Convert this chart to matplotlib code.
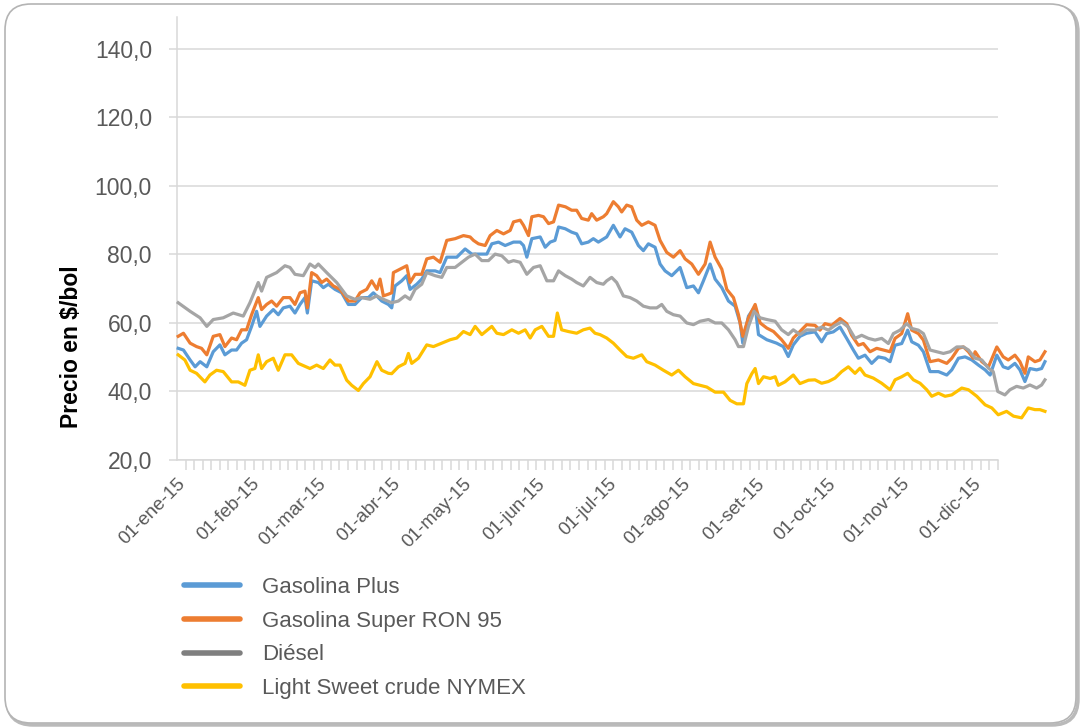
import numpy as np
import pandas as pd
import matplotlib
matplotlib.use("Agg")
import matplotlib.pyplot as plt
import matplotlib.dates as mdates
from matplotlib.lines import Line2D
from matplotlib.patches import FancyBboxPatch

plt.rcParams['font.family'] = ['Liberation Sans', 'DejaVu Sans']

# ================================
# Datos (dias desde 01-ene-15, precio $/bol)
# ================================
base = pd.Timestamp("2015-01-01")

plus_dias = [0.5, 2.7, 5.5, 7.6, 9.7, 12.5, 15.2, 18, 20.1, 22.9, 25, 27.1, 29.2, 31.3, 33.4, 34.8, 37.6, 40.4,
             42.5, 44.6, 47.4, 49.5, 51.6, 53.7, 54.7, 56.5, 59.3, 61.4, 63.5, 66.3, 69.1, 71.9, 74.7, 77.5,
             80.3, 82.4, 84.5, 85.9, 88.7,
             90.1, 91.5, 94.3, 96.4, 97.8, 100.6, 102.7, 104.8, 108.3, 110.4, 113.2, 117.4, 120.9, 123.7,
             127.2, 130, 132.1, 134.9, 137.7, 141.2, 144, 145.4, 146.8, 148.9, 152.4, 154.5, 156.6, 158.6,
             160.1, 162.9, 165.6, 167.7, 169.8, 172.6, 174.7, 176.8,
             180.3, 183.1, 185.9, 188, 190.8, 193.6, 195.7, 197.8, 200.6, 202.7, 204.8, 207.6, 211.1, 213.9,
             216.7, 218.8, 220.9, 223.7, 225.8, 228.6, 231.4, 234.2, 236.3, 237.4, 239.8, 242.6, 244, 247.5,
             251.6, 254.4, 256.5, 258.6, 261.4, 264.2,
             267.7, 270.5, 272.6, 275.4, 278.2, 281, 283.8, 285.9, 288.7, 291.5, 294.3, 297.1, 299.2, 301.3,
             304.1, 306.6, 308.3, 311.1, 313.2, 316, 319.5, 323, 325.1, 327.9, 330.7, 333.5, 336.3, 339.1,
             341.2, 344, 346.7, 348.8, 351.6, 353.7, 355.8, 357.9, 360.7, 362.8, 364.2]
plus_val = [52.6, 52.1, 49.2, 47.2, 48.7, 47.2, 51.6, 53.6, 50.7, 52.1, 52.1, 54.1, 55.1, 59.0, 63.4, 59.0, 62.0, 63.9,
            62.4, 64.4, 64.9, 62.9, 65.4, 67.4, 62.9, 72.3, 71.8, 70.3, 71.3, 69.8, 68.8, 65.4, 65.4, 67.4,
            67.4, 68.8, 67.4, 66.4, 65.4,
            64.4, 70.8, 72.3, 73.8, 69.8, 71.3, 72.8, 75.2, 75.2, 74.7, 79.2, 79.2, 81.6, 80.1,
            80.1, 80.1, 83.1, 83.6, 82.6, 83.6, 83.6, 82.6, 79.2, 84.6, 85.1, 82.1, 83.6, 84.1,
            88.0, 87.5, 86.5, 86.0, 83.1, 83.6, 84.6, 83.6,
            85.1, 88.5, 85.1, 87.5, 86.5, 82.6, 81.1, 83.1, 82.1, 77.2, 75.2, 73.8, 76.2, 70.3,
            70.8, 68.8, 72.3, 77.2, 72.8, 70.3, 66.4, 64.9, 60.0, 54.1, 62.0, 64.9, 56.6, 55.1,
            54.1, 53.1, 50.2, 53.6, 56.1, 57.0,
            57.4, 54.5, 56.9, 57.4, 58.8, 55.5, 52.1, 49.7, 50.6, 48.2, 50.1, 49.7, 48.7, 53.5,
            54.0, 57.9, 54.5, 53.5, 51.6, 45.8, 45.8, 44.8, 46.3, 49.7, 50.1, 49.2, 47.7, 46.3,
            44.8, 50.6, 47.2, 46.7, 48.2, 46.3, 42.9, 46.7, 46.3, 46.7, 48.7]

super_dias = [0.5, 2.7, 5.5, 8.2, 10.3, 12.5, 15.2, 18, 20.1, 22.9, 25, 27.1, 29.2, 31.3, 34.1, 35.5, 37.6, 39.7,
              41.8, 44.6, 47.4, 49.5, 51.6, 53.7, 54.7, 56.5, 58.6, 60.7, 62.8, 65.6, 68.4, 71.9, 74.7, 76.8,
              79.6, 81.7, 83.9, 85.2, 86.6,
              88.7, 90.1, 90.8, 93.6, 96.4, 97.8, 99.9, 102.7, 104.8, 107.6, 110.4, 113.2, 116.7, 120.2, 123,
              124.4, 126.5, 129.3, 131.4, 134.2, 137, 139.8, 141.2, 144, 145.4, 147.5, 148.9, 151.7, 153.8,
              155.9, 158, 160.1, 163, 165.6, 167.7, 169.8, 172.6, 174, 176.1,
              178.9, 180.3, 183.1, 185.2, 186.6, 188.7, 190.8, 192.9, 195, 197.8, 200.6, 202.7, 205.5, 208.3,
              211.1, 213.2, 216, 218.8, 221.6, 223.7, 225.8, 228.6, 230.7, 233.5, 235.6, 237.4, 239.8, 242.6,
              244.7, 247.5, 250.3, 253.7, 256.5, 258.6, 261.4, 264.2,
              267.7, 269.8, 271.9, 274.7, 278.2, 281, 283.1, 285.9, 288, 290.8, 293.6, 296.4, 299.2, 301.3,
              304.1, 306.6, 308.3, 311.1, 313.2, 316, 319.5, 323, 325.1, 327.9, 330, 332.1, 334.1, 334.9,
              337.7, 340.5, 344, 346.7, 348.8, 351.6, 353.7, 355.8, 357.2, 360, 362.1, 364.2]
super_val = [56.1, 57.0, 54.1, 53.1, 52.6, 50.7, 56.1, 56.6, 53.1, 55.6, 55.1, 58.0, 58.0, 62.4, 67.4, 63.9, 65.4, 66.4,
             64.9, 67.4, 67.4, 65.4, 68.8, 69.3, 64.4, 74.7, 73.8, 71.8, 72.8, 70.8, 69.8, 66.4, 66.4, 68.8,
             69.8, 72.3, 69.8, 72.8, 67.9,
             68.4, 68.8, 74.7, 75.7, 76.7, 71.8, 74.2, 74.2, 78.7, 79.2, 77.7, 84.1, 84.6, 85.5, 85.1,
             84.1, 83.1, 82.6, 85.5, 87.0, 86.0, 87.0, 89.5, 90.0, 88.5, 85.5, 91.0, 91.4, 91.0,
             89.0, 89.5, 94.4, 93.9, 92.9, 92.9, 90.5, 90.0, 91.9, 90.0,
             91.0, 91.9, 95.4, 93.9, 92.4, 94.4, 93.9, 90.0, 88.5, 89.5, 88.5, 84.1, 80.6, 79.2,
             81.1, 78.7, 77.2, 74.2, 77.2, 83.6, 79.2, 75.7, 69.8, 67.4, 62.4, 56.1, 61.5, 65.4,
             60.0, 58.5, 57.5, 55.1, 52.6, 55.6, 57.5, 59.5,
             59.3, 57.9, 59.8, 59.3, 61.3, 59.8, 56.4, 53.5, 54.0, 51.6, 52.6, 52.1, 51.6, 55.5,
             56.9, 62.7, 57.9, 56.9, 55.0, 48.7, 49.2, 48.2, 49.7, 52.6, 53.0, 51.6, 49.7, 51.6,
             48.7, 47.2, 53.0, 50.1, 49.2, 50.6, 48.7, 45.3, 50.1, 48.7, 49.2, 51.6]

diesel_dias = [0.5, 5.5, 9.7, 12.5, 15.2, 19.4, 23.6, 27.8, 30.6, 34.1, 35.5, 37.6, 41.8, 45.3, 47.4, 49.5, 53,
               55.8, 57.9, 59.3, 62.8, 67, 71.2, 74.7, 77.5, 81, 83.8, 86.6,
               90.1, 92.9, 95.7, 97.8, 99.9, 102.7, 104.8, 108.3, 111.1, 113.2, 116.7, 119.5, 122.3, 125.1,
               127.9, 130.7, 133.5, 136.3, 139.1, 141.2, 144, 146.8, 149.6, 152.4, 155.2, 158, 160.1, 162.9,
               165.6, 167.7, 170.5, 173.3, 176.1,
               178.9, 180.3, 182.4, 184.5, 187.3, 190.1, 192.9, 195.7, 198.5, 201.3, 203.4, 205.5, 208.3,
               211.1, 213.9, 216.7, 219.5, 223, 225.8, 228.6, 231.4, 234.2, 235.6, 237.7, 239.8, 242.1,
               244.7, 247.5, 251, 253.7, 256.5, 258.6, 261.4, 264.2,
               267.7, 270.5, 273.3, 276.1, 278.9, 281.7, 284.5, 287.3, 290.1, 292.9, 295.7, 298.5, 300.6,
               303.4, 306.2, 308.3, 311.1, 313.2, 316, 318.8, 321.6, 324.4, 327.2, 330, 332.1, 334.9, 337.7,
               340.5, 342.5, 344.4, 347.4, 349.5, 352.3, 355.1, 357.9, 360.7, 362.8, 364.2]
diesel_val = [65.9, 63.4, 61.5, 59.0, 61.0, 61.5, 62.9, 62.0, 65.9, 71.8, 69.3, 73.3, 74.7, 76.7, 76.2, 74.2, 73.8,
              77.2, 76.2, 77.2, 74.7, 71.8, 67.9, 66.9, 67.4, 66.9, 67.9, 66.9,
              65.9, 66.4, 67.9, 66.9, 69.8, 71.3, 74.7, 73.8, 73.3, 76.2, 76.2, 77.7, 79.2, 80.1,
              78.2, 78.2, 80.1, 79.6, 77.7, 78.2, 77.7, 74.2, 76.2, 76.7, 72.3, 72.3, 75.2, 73.8,
              72.8, 71.8, 70.8, 73.3, 71.8,
              71.3, 72.3, 73.3, 71.8, 67.9, 67.4, 66.4, 64.9, 64.4, 64.4, 65.4, 63.4, 62.4,
              62.0, 60.0, 59.5, 60.5, 61.0, 60.0, 60.0, 58.0, 55.1, 53.1, 53.1, 59.0, 63.4,
              61.5, 61.0, 60.5, 58.0, 56.6, 58.0, 56.6, 58.0,
              57.9, 58.8, 57.9, 59.3, 60.3, 58.8, 55.5, 56.4, 55.5, 55.0, 55.5, 54.0, 56.9,
              57.9, 59.8, 58.4, 57.9, 56.9, 52.1, 51.6, 51.1, 51.6, 53.0, 53.0, 52.1, 49.7, 49.2,
              46.8, 45.8, 40.0, 39.0, 40.5, 41.5, 41.0, 41.9, 41.0, 41.9, 43.4]

wti_dias = [0.5, 3.3, 5.5, 8.2, 11.7, 13.8, 16.6, 19.4, 22.9, 25.7, 28.5, 30.6, 32.7, 34.1, 35.5, 37.6, 40.4, 42.5,
            45.3, 48.1, 50.9, 55.8, 58.6, 61.4, 64.2, 66.3, 68.4, 71.2, 73.3, 76.1, 78.2, 81, 83.9, 85.9, 88.7,
            90.1, 92.9, 95.7, 97.1, 98.5, 101.3, 104.8, 107.6, 111.1, 114.6, 117.4, 120.2, 123, 125.1, 127.9,
            132.1, 134.2, 137, 140.5, 143.3, 146.1, 148.2, 150.3, 153.1, 155.9, 158, 159.6, 161.4, 164.2,
            167.7, 170.5, 173.3, 175.4, 177.5,
            180.3, 183.1, 185.9, 188.7, 191.5, 195, 197.1, 200.6, 204.1, 207.6, 210.4, 213.2, 216.7, 219.5,
            222.3, 225.8, 229.3, 232.1, 234.9, 237.7, 239.1, 241.2, 242.6, 244, 246.1, 248.9, 251, 252.3,
            255.1, 258.6, 261.4, 265,
            267.7, 270.5, 273.3, 276.1, 278.9, 281.7, 284.5, 286.6, 288.7, 292.2, 295.7, 299.2, 301.3, 304.1,
            306.6, 309, 311.8, 314.6, 316.7, 319.5, 322.3, 325.1, 329.3, 332.1, 335.6, 339.1, 341.9, 344.6,
            348.1, 351, 354.4, 357.2, 360, 362.1, 364.2]
wti_val = [50.7, 49.2, 46.2, 45.3, 42.8, 44.8, 46.2, 45.8, 42.8, 42.8, 41.8, 46.2, 46.7, 50.7, 46.7, 48.7, 49.7, 46.2,
           50.7, 50.7, 48.2, 46.7, 47.7, 46.7, 49.2, 47.7, 47.7, 43.3, 41.8, 40.3, 42.3, 44.3, 48.7, 46.2, 45.3,
           45.2, 47.2, 48.2, 51.1, 48.2, 49.7, 53.6, 53.1, 54.1, 55.1, 55.6, 57.5, 56.6, 59.0, 56.6,
           59.0, 57.0, 56.6, 58.0, 57.0, 58.0, 55.6, 58.0, 59.0, 56.1, 56.1, 62.9, 58.0, 57.5,
           57.0, 58.0, 58.5, 57.0, 56.6,
           55.6, 54.1, 52.1, 50.2, 49.7, 50.7, 48.7, 47.7, 46.2, 44.8, 46.2, 44.3, 42.3, 41.8,
           41.3, 39.8, 39.8, 37.4, 36.4, 36.4, 42.3, 45.2, 46.7, 42.3, 44.3, 43.8, 44.3, 41.8,
           42.8, 44.8, 42.3, 43.3,
           43.4, 42.4, 42.9, 43.9, 45.8, 47.2, 45.3, 46.8, 44.8, 43.9, 42.4, 40.5, 43.4, 44.3,
           45.3, 43.4, 42.4, 40.5, 38.6, 39.5, 38.6, 39.0, 41.0, 40.5, 38.6, 36.1, 35.2, 33.2,
           34.2, 32.8, 32.3, 35.2, 34.7, 34.7, 34.2]

series = [
    ("Gasolina Plus", plus_dias, plus_val, "#5b9bd5"),
    ("Gasolina Super RON 95", super_dias, super_val, "#ed7d31"),
    ("Diésel", diesel_dias, diesel_val, "#a5a5a5"),
    ("Light Sweet crude NYMEX", wti_dias, wti_val, "#ffc000"),
]

meses = ["01-ene-15", "01-feb-15", "01-mar-15", "01-abr-15", "01-may-15", "01-jun-15",
         "01-jul-15", "01-ago-15", "01-set-15", "01-oct-15", "01-nov-15", "01-dic-15"]
y_ticks = [20, 40, 60, 80, 100, 120, 140]

# ================================
# Figura
# ================================
W, H = 1081, 727
fig = plt.figure(figsize=(W / 100, H / 100), dpi=100)
ax = fig.add_axes([177 / W, 1 - 460 / H, (998 - 177) / W, (460 - 17) / H])

# marco redondeado con sombra
sombra = FancyBboxPatch((0.07, 0.02), 10.71, 7.19, boxstyle="round,pad=0,rounding_size=0.26",
                        transform=fig.dpi_scale_trans, facecolor="none", edgecolor="#8c8c8c",
                        linewidth=2.5, alpha=0.6, zorder=-2)
marco = FancyBboxPatch((0.05, 0.04), 10.71, 7.19, boxstyle="round,pad=0,rounding_size=0.26",
                       transform=fig.dpi_scale_trans, facecolor="white", edgecolor="#b4b4b4",
                       linewidth=1.2, zorder=-1)
fig.patches.extend([sombra, marco])
ax.set_facecolor("none")

for nombre, dias, vals, color in series:
    fechas = base + pd.to_timedelta(dias, unit="D")
    ax.plot(fechas, vals, color=color, linewidth=2.3, clip_on=False, label=nombre, zorder=3,
            solid_joinstyle="round")

x0 = base
x1 = base + pd.Timedelta(days=344.5)
ax.set_xlim(x0, x1)
ax.set_ylim(20, 149.3)

ax.set_yticks(y_ticks)
ax.set_yticklabels([f"{v:.1f}".replace(".", ",") for v in y_ticks])
ax.yaxis.grid(True, color="#d9d9d9", linewidth=1.1)
ax.set_axisbelow(True)

ax.set_xticks(pd.date_range("2015-01-01", "2015-12-01", freq="MS"))
ax.set_xticklabels(meses, rotation=45, ha="right", rotation_mode="anchor")
ax.set_xticks(mdates.date2num(x0) + np.linspace(0, 344.5, 97), minor=True)

for s in ["top", "right"]:
    ax.spines[s].set_visible(False)
for s in ["left", "bottom"]:
    ax.spines[s].set_color("#d9d9d9")
    ax.spines[s].set_linewidth(1.1)

ax.tick_params(axis="y", length=6, color="#d9d9d9", width=1.1, labelcolor="#595959",
               labelsize=16.5, pad=12)
ax.tick_params(axis="x", which="major", length=0, labelcolor="#595959", labelsize=13.5, pad=11)
ax.tick_params(axis="x", which="minor", length=7.5, color="#d9d9d9", width=1.1)

fig.text(72 / W, 1 - 347 / H, "Precio en $/bol", rotation=90, fontsize=16.5, fontweight="bold",
         color="black", ha="center", va="center")

handles = [Line2D([], [], color=c, linewidth=4, solid_capstyle="round") for _, _, _, c in series]
handles[2].set_color("#7f7f7f")
leg = fig.legend(handles, [n for n, _, _, _ in series], loc="upper left",
                 bbox_to_anchor=(184 / W, 1 - 577 / H), frameon=False, fontsize=16,
                 handlelength=2.5, handletextpad=1.0, labelspacing=0.57, borderpad=0, borderaxespad=0)
for t in leg.get_texts():
    t.set_color("#595959")

fig.savefig("out.png", dpi=100)
